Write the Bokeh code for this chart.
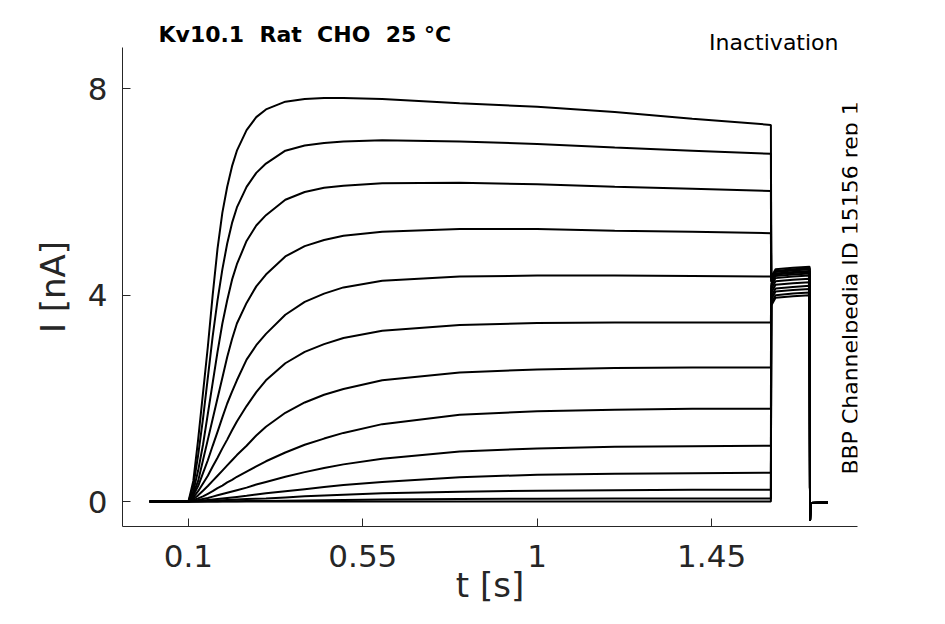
import numpy as np
from bokeh.plotting import figure
from bokeh.models import Range1d, FixedTicker, Label, Title
from bokeh.embed import file_html
from bokeh.resources import INLINE

# ---- data ----
step_t = [0.0, 0.1, 0.1125, 0.125, 0.1375, 0.15, 0.1625, 0.175, 0.1875, 0.2,
          0.2125, 0.225, 0.25, 0.275, 0.3, 0.35, 0.4, 0.45, 0.5, 0.6, 0.8,
          1.0, 1.2, 1.4, 1.603]

step_i = [
    [0, 0, 0.4, 1.2, 2.1, 3.0, 4.0, 4.9, 5.6, 6.1, 6.5, 6.8, 7.2, 7.45, 7.6, 7.75, 7.8, 7.82, 7.82, 7.8, 7.72, 7.65, 7.55, 7.42, 7.3],
    [0, 0, 0.3, 0.9, 1.6, 2.4, 3.2, 3.9, 4.5, 5.0, 5.4, 5.7, 6.1, 6.37, 6.55, 6.8, 6.9, 6.95, 6.98, 7.0, 6.98, 6.93, 6.86, 6.8, 6.74],
    [0, 0, 0.2, 0.6, 1.1, 1.7, 2.3, 2.9, 3.45, 3.9, 4.3, 4.6, 5.05, 5.35, 5.55, 5.85, 6.0, 6.08, 6.12, 6.17, 6.18, 6.15, 6.1, 6.06, 6.02],
    [0, 0, 0.15, 0.4, 0.8, 1.2, 1.6, 2.0, 2.4, 2.8, 3.15, 3.45, 3.85, 4.17, 4.4, 4.75, 4.95, 5.07, 5.15, 5.23, 5.28, 5.28, 5.25, 5.23, 5.2],
    [0, 0, 0.12, 0.3, 0.55, 0.8, 1.08, 1.35, 1.63, 1.9, 2.13, 2.35, 2.75, 3.03, 3.25, 3.62, 3.87, 4.03, 4.15, 4.28, 4.36, 4.38, 4.38, 4.37, 4.36],
    [0, 0, 0.08, 0.2, 0.35, 0.5, 0.68, 0.85, 1.03, 1.2, 1.38, 1.55, 1.85, 2.12, 2.35, 2.68, 2.9, 3.05, 3.17, 3.31, 3.42, 3.46, 3.47, 3.47, 3.47],
    [0, 0, 0.05, 0.12, 0.21, 0.3, 0.4, 0.5, 0.6, 0.7, 0.8, 0.9, 1.08, 1.28, 1.45, 1.72, 1.92, 2.07, 2.18, 2.35, 2.5, 2.56, 2.59, 2.6, 2.6],
    [0, 0, 0.03, 0.06, 0.1, 0.15, 0.2, 0.26, 0.31, 0.37, 0.42, 0.48, 0.58, 0.68, 0.78, 0.95, 1.1, 1.22, 1.33, 1.5, 1.68, 1.75, 1.78, 1.8, 1.8],
    [0, 0, 0.015, 0.03, 0.05, 0.07, 0.095, 0.12, 0.145, 0.17, 0.195, 0.22, 0.27, 0.33, 0.38, 0.48, 0.57, 0.65, 0.72, 0.83, 0.97, 1.03, 1.06, 1.07, 1.08],
    [0, 0, 0.005, 0.01, 0.02, 0.03, 0.04, 0.05, 0.06, 0.07, 0.08, 0.09, 0.11, 0.135, 0.16, 0.2, 0.24, 0.28, 0.32, 0.38, 0.47, 0.52, 0.54, 0.55, 0.56],
    [0, 0, 0.0, 0.0, 0.005, 0.01, 0.015, 0.02, 0.025, 0.03, 0.035, 0.04, 0.05, 0.055, 0.06, 0.08, 0.1, 0.115, 0.13, 0.16, 0.19, 0.21, 0.22, 0.23, 0.23],
    [0, 0, 0, 0, 0, 0, 0, 0, 0.003, 0.005, 0.005, 0.005, 0.01, 0.01, 0.01, 0.015, 0.02, 0.025, 0.03, 0.04, 0.05, 0.055, 0.06, 0.06, 0.06],
    [0, 0, 0, 0, 0, 0, 0, 0, 0, 0, 0, 0, 0, 0, 0, 0, 0, 0, 0, 0, 0, 0, 0, 0, 0],
]

tail_t = [1.604, 1.615, 1.66, 1.703]
tail_i = [
    [4.35, 4.5, 4.53, 4.55],
    [4.32, 4.47, 4.5, 4.52],
    [4.3, 4.45, 4.48, 4.5],
    [4.27, 4.42, 4.45, 4.47],
    [4.25, 4.4, 4.43, 4.45],
    [4.22, 4.37, 4.4, 4.42],
    [4.18, 4.33, 4.36, 4.38],
    [4.12, 4.27, 4.3, 4.32],
    [4.05, 4.2, 4.23, 4.25],
    [3.98, 4.13, 4.16, 4.18],
    [3.92, 4.07, 4.1, 4.12],
    [3.85, 4.0, 4.03, 4.05],
    [3.8, 3.95, 3.98, 4.0],
]

end_t = [1.704, 1.7055, 1.75]
end_i = [-0.37, -0.03, -0.02]

x_ticks = [0.1, 0.55, 1.0, 1.45]
x_tick_labels = {0.1: "0.1", 0.55: "0.55", 1.0: "1", 1.45: "1.45"}
y_ticks = [0, 4, 8]

title_text = "Kv10.1\u00a0 Rat\u00a0 CHO\u00a0 25 °C"
protocol_text = "Inactivation"
side_text = "BBP Channelpedia ID 15156 rep 1"

FONT = "DejaVu Sans"
AX = "#262626"

p = figure(width=929, height=608, output_backend="svg", toolbar_location=None,
           x_range=Range1d(-0.0702, 1.8265), y_range=Range1d(-0.484, 8.80),
           min_border_left=122, min_border_right=72, min_border_top=47,
           min_border_bottom=82)
p.outline_line_color = None
p.grid.visible = False
p.background_fill_color = "white"
p.border_fill_color = "white"

p.title.text = title_text
p.title.align = "left"
p.title.offset = 36
p.title.standoff = -24
p.title.text_font = FONT
p.title.text_font_size = "22px"
p.title.text_font_style = "bold"
p.title.text_color = "black"

t2 = Title(text=protocol_text, align="right", offset=19, standoff=-14,
           text_font=FONT, text_font_size="22px", text_font_style="normal",
           text_color="black")
p.add_layout(t2, "above")

for k in range(len(step_i)):
    xs = step_t + tail_t + end_t
    ys = step_i[k] + tail_i[k] + end_i
    p.line(xs, ys, line_color="black", line_width=2)

xa = p.xaxis[0]
ya = p.yaxis[0]
for ax in (xa, ya):
    ax.axis_line_color = AX
    ax.axis_line_width = 1
    ax.major_tick_line_color = AX
    ax.major_tick_in = 8
    ax.major_tick_out = 0
    ax.minor_tick_line_color = None
    ax.major_label_text_font = FONT
    ax.major_label_text_font_size = "31px"
    ax.major_label_text_color = AX
    ax.axis_label_text_font = FONT
    ax.axis_label_text_font_size = "34px"
    ax.axis_label_text_color = AX
    ax.axis_label_text_font_style = "normal"

xa.ticker = FixedTicker(ticks=x_ticks)
xa.major_label_overrides = x_tick_labels
xa.axis_label = "t [s]"
xa.major_label_standoff = 18
xa.axis_label_standoff = -5
ya.ticker = FixedTicker(ticks=y_ticks)
ya.axis_label = "I [nA]"
ya.major_label_standoff = 15
ya.axis_label_standoff = 12

p.add_layout(Label(x=1.8084, y=4.14, text=side_text,
                   text_font=FONT, text_font_size="22px", angle=np.pi / 2,
                   text_color="black", text_align="center", text_baseline="middle"))

open("out.html", "w").write(file_html(p, INLINE))
